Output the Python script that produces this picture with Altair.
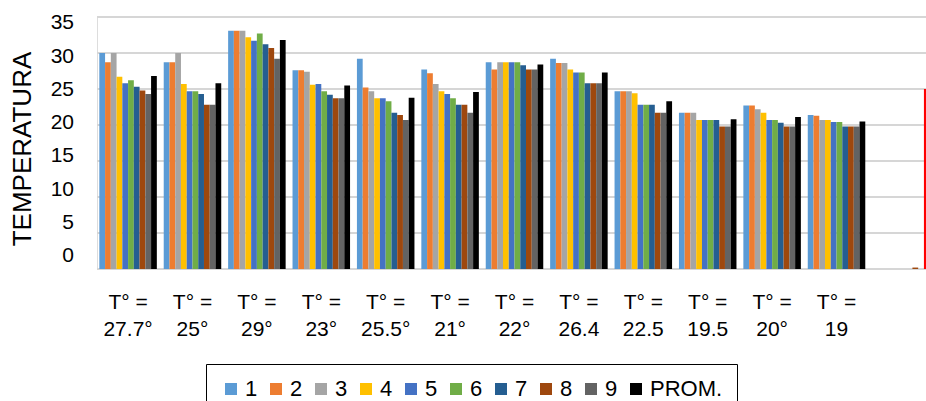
import altair as alt
import pandas as pd

# Category labels (two lines, split on "|"); the last group is an unlabeled slot
categorias = [
    "T° =|27.7°", "T° =|25°", "T° =|29°", "T° =|23°", "T° =|25.5°", "T° =|21°",
    "T° =|22°", "T° =|26.4", "T° =|22.5", "T° =|19.5", "T° =|20°", "T° =|19", "",
]
series = ["1", "2", "3", "4", "5", "6", "7", "8", "9", "PROM."]
colores = ["#5B9BD5", "#ED7D31", "#A5A5A5", "#FFC000", "#4472C4",
           "#70AD47", "#255E91", "#9E480E", "#636363", "#000000"]
ticks_y = [0, 5, 10, 15, 20, 25, 30, 35]
titulo_y = "TEMPERATURA"

s1 = [30.0, 28.7, 33.1, 27.6, 29.2, 27.7, 28.7, 29.2, 24.7, 21.7, 22.7, 21.4]
s2 = [28.7, 28.7, 33.1, 27.6, 25.2, 27.2, 27.7, 28.6, 24.7, 21.7, 22.7, 21.3]
s3 = [30.0, 30.0, 33.1, 27.4, 24.7, 25.7, 28.7, 28.6, 24.7, 21.7, 22.2, 20.7]
s4 = [26.7, 25.7, 32.2, 25.6, 23.7, 24.7, 28.7, 27.7, 24.4, 20.7, 21.7, 20.7]
s5 = [25.8, 24.7, 31.7, 25.7, 23.7, 24.3, 28.7, 27.3, 22.8, 20.7, 20.7, 20.4]
s6 = [26.2, 24.7, 32.7, 24.7, 23.3, 23.7, 28.7, 27.3, 22.8, 20.7, 20.7, 20.4]
s7 = [25.3, 24.3, 31.2, 24.2, 21.7, 22.8, 28.3, 25.8, 22.8, 20.7, 20.3, 19.8]
s8 = [24.8, 22.8, 30.7, 23.7, 21.4, 22.8, 27.7, 25.8, 21.7, 19.8, 19.8, 19.8]
s9 = [24.3, 22.8, 29.2, 23.7, 20.7, 21.7, 27.7, 25.8, 21.7, 19.8, 19.8, 19.8]
prom = [26.8, 25.8, 31.8, 25.5, 23.8, 24.6, 28.4, 27.3, 23.3, 20.8, 21.1, 20.5]

# Last slot: a near-zero value for series 8 and a red marker bar
extra_serie8 = 0.2
extra_rojo = 25.0

valores = [s1, s2, s3, s4, s5, s6, s7, s8, s9, prom]
filas = []
for serie, vals in zip(series, valores):
    for cat, v in zip(categorias[:12], vals):
        filas.append({"cat": cat, "serie": serie, "val": v})
filas.append({"cat": categorias[12], "serie": "8", "val": extra_serie8})
df = pd.DataFrame(filas)
df_rojo = pd.DataFrame([{"cat": categorias[12], "serie": "PROM.", "val": extra_rojo}])
df_ticks = pd.DataFrame({"val": ticks_y, "txt": [str(t) for t in ticks_y]})
df_titulo = pd.DataFrame({"txt": [titulo_y]})

FONT = "Liberation Sans"
ANCHO = 829
ALTO = 252  # 36 px per 5 degrees keeps the gridlines on whole pixels

x_enc = alt.X(
    "cat:N",
    sort=categorias,
    scale=alt.Scale(domain=categorias, range=[0, 835], paddingInner=0.107, paddingOuter=0.036),
    axis=alt.Axis(
        title=None, domain=False, ticks=False, grid=False, labelAngle=0,
        labelExpr="split(datum.value, '|')", labelFontSize=21, labelLineHeight=27,
        labelPadding=22, labelBaseline="top", labelColor="#000000", labelFont=FONT,
    ),
)
xo_enc = alt.XOffset(
    "serie:N", sort=series,
    scale=alt.Scale(domain=series, paddingInner=0, paddingOuter=0),
)
y_scale = alt.Scale(domain=[0, 35], nice=False)
y_enc = alt.Y("val:Q", scale=y_scale, axis=None)

# Gridlines on the back wall as thin full-width bands (about 2 px thick)
grid = (
    alt.Chart(df_ticks)
    .transform_calculate(lo="datum.val - 0.14", hi="datum.val + 0.14")
    .mark_rect(color="#D6D6D6")
    .encode(
        y=alt.Y("lo:Q", scale=y_scale, axis=None),
        y2="hi:Q",
        x=alt.value(0),
        x2=alt.value(ANCHO),
    )
)

# Value labels sit on the slanted front edge, so they are spaced a little
# tighter than the wall gridlines
etiquetas = (
    alt.Chart(df_ticks)
    .transform_calculate(pos="1.803 + 0.9235 * datum.val")
    .mark_text(align="right", baseline="middle", fontSize=21, font=FONT, color="#000000")
    .encode(y=alt.Y("pos:Q", scale=y_scale, axis=None), x=alt.value(-23), text="txt:N")
)

titulo = (
    alt.Chart(df_titulo)
    .mark_text(align="center", baseline="middle", angle=270, fontSize=26, font=FONT,
               color="#000000")
    .encode(x=alt.value(-74), y=alt.value(132), text="txt:N")
)

barras = alt.Chart(df).mark_bar(clip=True).encode(
    x=x_enc,
    xOffset=xo_enc,
    y=y_enc,
    color=alt.Color(
        "serie:N",
        sort=series,
        scale=alt.Scale(domain=series, range=colores),
        legend=alt.Legend(
            title=None, orient="none", legendX=109, legendY=347, direction="horizontal",
            columns=10, gridAlign="none", symbolType="square", symbolSize=144,
            symbolStrokeWidth=0, labelFontSize=22, labelFont=FONT, labelColor="#000000",
            labelOffset=3, columnPadding=7, padding=14, strokeColor="#000000",
        ),
    ),
)

rojo = alt.Chart(df_rojo).mark_bar(clip=True, color="#FF0000").encode(
    x=x_enc, xOffset=xo_enc, y=y_enc,
)

chart = (
    alt.layer(grid, barras, rojo, etiquetas, titulo)
    .properties(
        width=ANCHO, height=ALTO,
        autosize=alt.AutoSizeParams(type="none"),
        padding={"left": 97, "top": 17, "right": 0, "bottom": 132},
    )
    .configure_view(stroke=None)
    .configure(font=FONT, background="white")
)

chart.save("out.html", embed_options={"renderer": "svg", "actions": False})
